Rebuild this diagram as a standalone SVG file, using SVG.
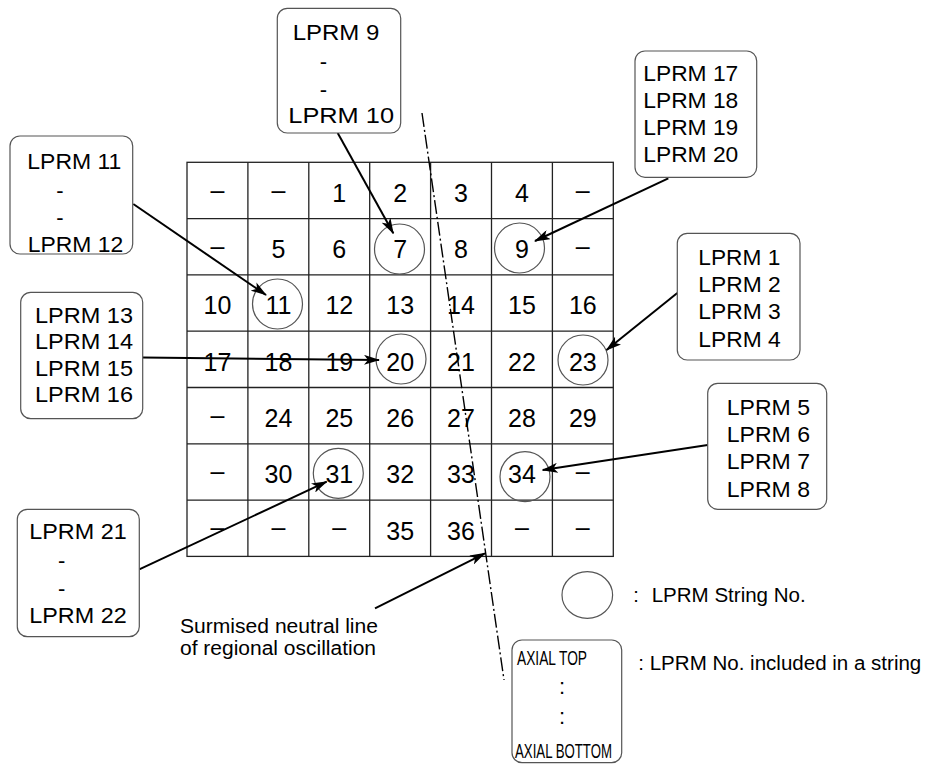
<svg xmlns="http://www.w3.org/2000/svg" width="938" height="764" viewBox="0 0 938 764">
<defs>
<marker id="ah" viewBox="0 0 16 10" refX="15" refY="5" markerWidth="16" markerHeight="10" markerUnits="userSpaceOnUse" orient="auto">
<path d="M0,0 L16,5 L0,10 L4,5 Z" fill="#000"/>
</marker>
<style>
.g{stroke:#222;stroke-width:1.3;fill:none}
.n{font-family:"Liberation Sans",Arial,sans-serif;font-size:25px;fill:#000;text-anchor:middle}
.c{fill:none;stroke:#555;stroke-width:1.2}
.b{fill:#fff;stroke:#555;stroke-width:1.2}
.t{font-family:"Liberation Sans",Arial,sans-serif;font-size:22px;fill:#000}
.h{font-family:"Liberation Sans",Arial,sans-serif;font-size:22px;fill:#000;text-anchor:middle}
.s{font-family:"Liberation Sans",Arial,sans-serif;font-size:20px;fill:#000}
.k{font-family:"Liberation Sans Narrow","Liberation Sans",Arial,sans-serif;font-size:21px;fill:#000}
.a{stroke:#000;stroke-width:2;fill:none;marker-end:url(#ah)}
.dl{stroke:#000;stroke-width:1.4;fill:none;stroke-dasharray:14 3 2 3}
</style>
</defs>
<rect width="938" height="764" fill="#fff"/>

<g id="grid">
<rect class="g" x="187" y="162.3" width="426.3" height="394.1"/>
<path class="g" d="M247.9,162.3V556.4M308.8,162.3V556.4M369.7,162.3V556.4M430.6,162.3V556.4M491.5,162.3V556.4M552.4,162.3V556.4M187,218.6H613.3M187,274.9H613.3M187,331.2H613.3M187,387.5H613.3M187,443.8H613.3M187,500.1H613.3"/>
<g id="cells">
<text class="n" x="217.5" y="198.5">–</text><text class="n" x="278.4" y="198.5">–</text><text class="n" x="339.3" y="201.7">1</text><text class="n" x="400.2" y="201.7">2</text><text class="n" x="461" y="201.7">3</text><text class="n" x="521.9" y="201.7">4</text><text class="n" x="582.8" y="198.5">–</text>
<text class="n" x="217.5" y="254.8">–</text><text class="n" x="278.4" y="258">5</text><text class="n" x="339.3" y="258">6</text><text class="n" x="400.2" y="258">7</text><text class="n" x="461" y="258">8</text><text class="n" x="521.9" y="258">9</text><text class="n" x="582.8" y="254.8">–</text>
<text class="n" x="217.5" y="314.3">10</text><text class="n" x="278.4" y="314.3">11</text><text class="n" x="339.3" y="314.3">12</text><text class="n" x="400.2" y="314.3">13</text><text class="n" x="461" y="314.3">14</text><text class="n" x="521.9" y="314.3">15</text><text class="n" x="582.8" y="314.3">16</text>
<text class="n" x="217.5" y="370.6">17</text><text class="n" x="278.4" y="370.6">18</text><text class="n" x="339.3" y="370.6">19</text><text class="n" x="400.2" y="370.6">20</text><text class="n" x="461" y="370.6">21</text><text class="n" x="521.9" y="370.6">22</text><text class="n" x="582.8" y="370.6">23</text>
<text class="n" x="217.5" y="423.7">–</text><text class="n" x="278.4" y="426.9">24</text><text class="n" x="339.3" y="426.9">25</text><text class="n" x="400.2" y="426.9">26</text><text class="n" x="461" y="426.9">27</text><text class="n" x="521.9" y="426.9">28</text><text class="n" x="582.8" y="426.9">29</text>
<text class="n" x="217.5" y="480">–</text><text class="n" x="278.4" y="483.2">30</text><text class="n" x="339.3" y="483.2">31</text><text class="n" x="400.2" y="483.2">32</text><text class="n" x="461" y="483.2">33</text><text class="n" x="521.9" y="483.2">34</text><text class="n" x="582.8" y="480">–</text>
<text class="n" x="217.5" y="536.3">–</text><text class="n" x="278.4" y="536.3">–</text><text class="n" x="339.3" y="536.3">–</text><text class="n" x="400.2" y="539.5">35</text><text class="n" x="461" y="539.5">36</text><text class="n" x="521.9" y="536.3">–</text><text class="n" x="582.8" y="536.3">–</text>
</g>
<g id="circles">
<circle class="c" cx="399.5" cy="249" r="25"/>
<circle class="c" cx="519.5" cy="248" r="25"/>
<circle class="c" cx="277.5" cy="304" r="25"/>
<circle class="c" cx="401" cy="359" r="25"/>
<circle class="c" cx="583" cy="360" r="25"/>
<circle class="c" cx="338.3" cy="473.3" r="25"/>
<circle class="c" cx="525" cy="476.7" r="25"/>
</g>
</g>

<g id="connectors">
<path class="dl" d="M422,113L504,680"/>
<path class="a" d="M337.7,133L393.3,233.3"/>
<path class="a" d="M133.3,204L266,295"/>
<path class="a" d="M142.7,357.5L379,360"/>
<path class="a" d="M668.3,178.3L535,241"/>
<path class="a" d="M677.3,293L606.5,350"/>
<path class="a" d="M707.7,445L542.7,470"/>
<path class="a" d="M139.3,569.3L326.7,481.7"/>
<path class="a" d="M375,608.3L485,553.3"/>
</g>

<g id="boxA">
<rect class="b" x="277.3" y="8.3" width="123.4" height="124.7" rx="10"/>
<text class="t" x="292.7" y="40" textLength="86.7" lengthAdjust="spacingAndGlyphs">LPRM 9</text>
<text class="h" x="323.3" y="69">-</text>
<text class="h" x="323.3" y="96.5">-</text>
<text class="t" x="288.3" y="122.7" textLength="105.7" lengthAdjust="spacingAndGlyphs">LPRM 10</text>
</g>
<g id="boxB">
<rect class="b" x="10" y="136" width="122.7" height="118" rx="10"/>
<text class="t" x="27.3" y="169.3" textLength="94" lengthAdjust="spacingAndGlyphs">LPRM 11</text>
<text class="h" x="60" y="198">-</text>
<text class="h" x="60" y="225">-</text>
<text class="t" x="27.7" y="251.7" textLength="95.6" lengthAdjust="spacingAndGlyphs">LPRM 12</text>
</g>
<g id="boxC">
<rect class="b" x="20.7" y="292.3" width="122" height="126.4" rx="10"/>
<text class="t" x="35" y="323.3" textLength="98" lengthAdjust="spacingAndGlyphs">LPRM 13</text>
<text class="t" x="35" y="349.4" textLength="98" lengthAdjust="spacingAndGlyphs">LPRM 14</text>
<text class="t" x="35" y="375.6" textLength="98" lengthAdjust="spacingAndGlyphs">LPRM 15</text>
<text class="t" x="35" y="401.7" textLength="98" lengthAdjust="spacingAndGlyphs">LPRM 16</text>
</g>
<g id="boxD">
<rect class="b" x="635" y="51" width="121.7" height="126.3" rx="10"/>
<text class="t" x="643.3" y="80.7" textLength="95" lengthAdjust="spacingAndGlyphs">LPRM 17</text>
<text class="t" x="643.3" y="107.7" textLength="95" lengthAdjust="spacingAndGlyphs">LPRM 18</text>
<text class="t" x="643.3" y="134.7" textLength="95" lengthAdjust="spacingAndGlyphs">LPRM 19</text>
<text class="t" x="643.3" y="161.7" textLength="95" lengthAdjust="spacingAndGlyphs">LPRM 20</text>
</g>
<g id="boxE">
<rect class="b" x="677.3" y="233.3" width="122.7" height="126.7" rx="10"/>
<text class="t" x="698.3" y="265" textLength="82" lengthAdjust="spacingAndGlyphs">LPRM 1</text>
<text class="t" x="698.3" y="292.2" textLength="82.5" lengthAdjust="spacingAndGlyphs">LPRM 2</text>
<text class="t" x="698.3" y="319.4" textLength="82.5" lengthAdjust="spacingAndGlyphs">LPRM 3</text>
<text class="t" x="698.3" y="346.7" textLength="82.5" lengthAdjust="spacingAndGlyphs">LPRM 4</text>
</g>
<g id="boxF">
<rect class="b" x="707.7" y="383.3" width="119" height="126" rx="10"/>
<text class="t" x="726.7" y="415" textLength="83.3" lengthAdjust="spacingAndGlyphs">LPRM 5</text>
<text class="t" x="726.7" y="442.2" textLength="83.3" lengthAdjust="spacingAndGlyphs">LPRM 6</text>
<text class="t" x="726.7" y="469.4" textLength="83.3" lengthAdjust="spacingAndGlyphs">LPRM 7</text>
<text class="t" x="726.7" y="496.7" textLength="83.3" lengthAdjust="spacingAndGlyphs">LPRM 8</text>
</g>
<g id="boxG">
<rect class="b" x="17.3" y="509.3" width="122" height="127.4" rx="10"/>
<text class="t" x="29.3" y="539.3" textLength="97.4" lengthAdjust="spacingAndGlyphs">LPRM 21</text>
<text class="h" x="61.7" y="568">-</text>
<text class="h" x="61.7" y="596">-</text>
<text class="t" x="29.3" y="622.7" textLength="97.4" lengthAdjust="spacingAndGlyphs">LPRM 22</text>
</g>

<g id="neutral-label">
<text class="s" x="180" y="632.7" font-size="21" textLength="198" lengthAdjust="spacingAndGlyphs">Surmised neutral line</text>
<text class="s" x="180" y="655" font-size="21" textLength="196" lengthAdjust="spacingAndGlyphs">of regional oscillation</text>
</g>

<g id="legend">
<ellipse class="c" cx="587.3" cy="595" rx="25.3" ry="23.3"/>
<text class="s" x="633.3" y="601.7">:</text>
<text class="s" x="651.7" y="601.7" textLength="154" lengthAdjust="spacingAndGlyphs">LPRM String No.</text>
<rect class="b" x="512" y="640" width="109.7" height="122.7" rx="10"/>
<text class="k" x="517" y="665" textLength="70" lengthAdjust="spacingAndGlyphs">AXIAL TOP</text>
<text class="h" x="562" y="694">:</text>
<text class="h" x="562" y="724">:</text>
<text class="k" x="515" y="758.3" textLength="97" lengthAdjust="spacingAndGlyphs">AXIAL BOTTOM</text>
<text class="s" x="638.3" y="670" textLength="283" lengthAdjust="spacingAndGlyphs">: LPRM No. included in a string</text>
</g>
</svg>
